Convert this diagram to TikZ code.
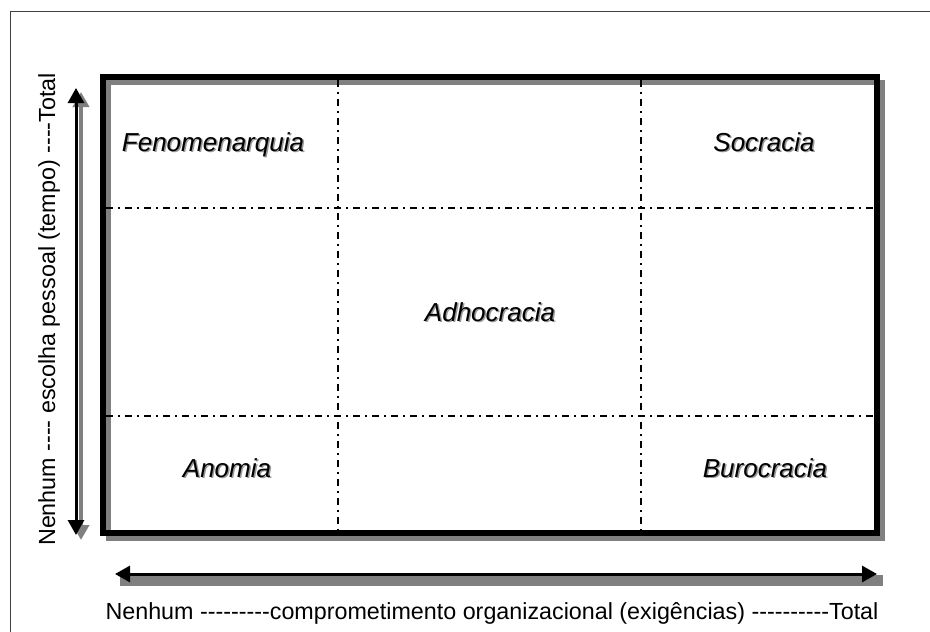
\documentclass[tikz,border=0pt]{standalone}
\usepackage{fontspec}
\setmainfont{Liberation Sans}[Ligatures=TeXOff]
\usetikzlibrary{arrows.meta}
\tikzset{
  frameline/.style={draw=black!75, line width=1pt},
  boxline/.style={draw=black, line width=6pt},
  boxshadow/.style={draw=black!50, line width=5pt},
  divline/.style={line width=2pt, dash pattern=on 7pt off 5pt on 2pt off 5pt},
  celltxt/.style={font=\itshape\fontsize{26}{31}\selectfont, anchor=base, inner sep=0pt},
  celltxtsh/.style={celltxt, text=black!40},
  axistxt/.style={font=\fontsize{23.3}{28}\selectfont, anchor=base, inner sep=0pt},
  axarrow/.style={draw=black, line width=3pt, {Triangle[length=15pt,width=16pt]}-{Triangle[length=15pt,width=16pt]}},
  axarrowsh/.style={draw=black!50, line width=4pt, {Triangle[length=15pt,width=16pt]}-{Triangle[length=15pt,width=16pt]}},
}
\begin{document}
\begin{tikzpicture}[x=1pt,y=-1pt]
\useasboundingbox (0,0) rectangle (930,632);
% outer frame (top and left)
\draw[frameline] (930,11) -- (10,11) -- (10,632);
% main box with shadow
\draw[boxshadow] (108,82) rectangle (882,538);
\node[boxline, minimum width=774pt, minimum height=456pt, inner sep=0pt] (box) at (490,305) {};
% dividing lines
\coordinate (v1t) at (338,80); \coordinate (v1b) at (338,530);
\coordinate (v2t) at (641,80); \coordinate (v2b) at (641,530);
\coordinate (h1l) at (106,208); \coordinate (h1r) at (874,208);
\coordinate (h2l) at (106,416); \coordinate (h2r) at (874,416);
\draw[divline] (v1t) -- (v1b);
\draw[divline] (v2t) -- (v2b);
\draw[divline] (h1l) -- (h1r);
\draw[divline] (h2l) -- (h2r);
% cell labels with shadow
\node[celltxtsh] at (214.5,152.5) {Fenomenarquia};
\node[celltxt] (fen) at (213,151) {Fenomenarquia};
\node[celltxtsh] at (765.5,152.5) {Socracia};
\node[celltxt] (soc) at (764,151) {Socracia};
\node[celltxtsh] at (491.5,322.5) {Adhocracia};
\node[celltxt] (adh) at (490,321) {Adhocracia};
\node[celltxtsh] at (228.5,478.5) {Anomia};
\node[celltxt] (ano) at (227,477) {Anomia};
\node[celltxtsh] at (766.5,478.5) {Burocracia};
\node[celltxt] (bur) at (765,477) {Burocracia};
% vertical axis arrow
\coordinate (vat) at (76,88); \coordinate (vab) at (76,535);
\coordinate (vast) at (81,92); \coordinate (vasb) at (81,540);
\draw[axarrowsh] (vast) -- (vasb);
\draw[axarrow] (vat) -- (vab);
% horizontal axis arrow
\fill[black!50] (120,575) rectangle (883,586);
\coordinate (hal) at (115,574); \coordinate (har) at (877,574);
\draw[axarrow] (hal) -- (har);
% axis labels
\node[axistxt, rotate=90] (vlab) at (55,309.5) {Nenhum ---- escolha pessoal (tempo) ----Total};
\node[axistxt] (hlab) at (492,619) {Nenhum ---------comprometimento organizacional (exigências) ----------Total};
\end{tikzpicture}
\end{document}
